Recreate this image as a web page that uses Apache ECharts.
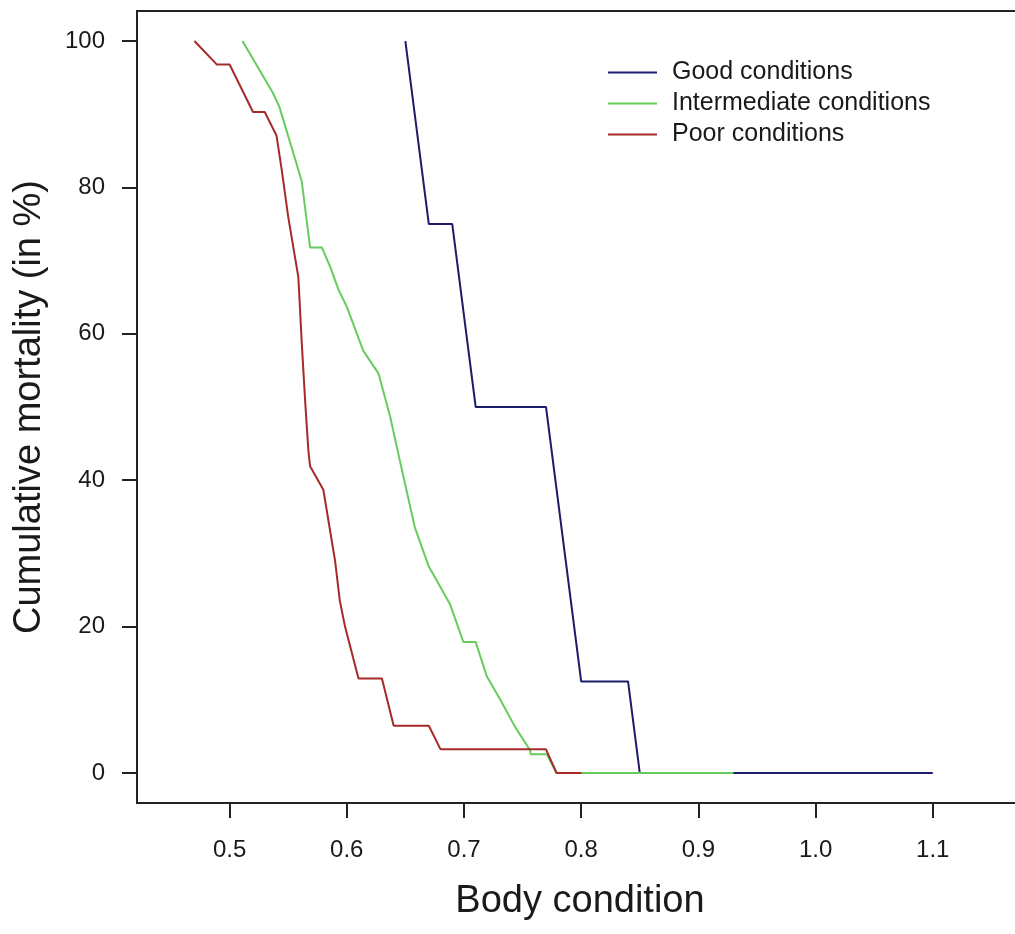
<!doctype html>
<html>
<head>
<meta charset="utf-8">
<title>Cumulative mortality</title>
<script src="https://cdn.jsdelivr.net/npm/echarts@6/dist/echarts.min.js"></script>
</head>
<body style="margin:0;padding:0;background:#fff">
<div id="chart" style="width:1015px;height:934px;"></div>
<script>
// curve points (x = body condition, y = cumulative mortality %)
var goodX = [0.65, 0.67, 0.69, 0.71, 0.77, 0.80, 0.84, 0.85, 1.10];
var goodY = [100, 75, 75, 50, 50, 12.5, 12.5, 0, 0];

var interX = [0.511, 0.537, 0.5425, 0.557, 0.5616, 0.5687, 0.5787, 0.5857, 0.593, 0.600, 0.614, 0.627, 0.637, 0.644,
              0.658, 0.670, 0.688, 0.6995, 0.710, 0.7195, 0.731, 0.7436, 0.7564, 0.757, 0.7707, 0.779, 0.93];
var interY = [100, 92.9, 91.0, 83.3, 80.8, 71.8, 71.8, 69.2, 66.0, 63.7, 57.7, 54.6, 48.7, 43.6,
              33.6, 28.2, 23.1, 17.9, 17.9, 13.2, 10.0, 6.3, 3.1, 2.56, 2.56, 0, 0];

var poorX = [0.47, 0.489, 0.50, 0.52, 0.53, 0.54, 0.5445, 0.55, 0.5587, 0.560, 0.5616, 0.5644, 0.5672, 0.5687,
             0.58, 0.59, 0.594, 0.5985, 0.61, 0.63, 0.64, 0.67, 0.68, 0.77, 0.779, 0.80];
var poorY = [100, 96.8, 96.8, 90.3, 90.3, 87.1, 82.4, 76.0, 67.7, 67.7, 58.7, 51.0, 44.1, 41.9,
             38.7, 29.0, 23.6, 20.0, 12.9, 12.9, 6.45, 6.45, 3.23, 3.23, 0, 0];

var xTicks = [0.5, 0.6, 0.7, 0.8, 0.9, 1.0, 1.1];
var yTicks = [0, 20, 40, 60, 80, 100];

var names = ['Good conditions', 'Intermediate conditions', 'Poor conditions'];
var colors = ['#1c1c6b', '#66cc5c', '#a52a2a'];

function pairs(xs, ys) {
    var out = [];
    for (var i = 0; i < xs.length; i++) out.push([xs[i], ys[i]]);
    return out;
}

var font = '"Liberation Sans", Arial, sans-serif';
var ink = '#1a1a1a';

var chart = echarts.init(document.getElementById('chart'));

chart.setOption({
    backgroundColor: '#fff',
    animation: false,
    textStyle: { fontFamily: font },
    grid: {
        left: 137, top: 11, width: 886, height: 792,
        outerBoundsMode: 'none',
        show: true, borderColor: '#222', borderWidth: 2
    },
    legend: {
        orient: 'vertical',
        left: 603, top: 55,
        icon: 'rect',
        itemWidth: 49, itemHeight: 2,
        itemGap: 6,
        data: names,
        textStyle: { fontSize: 25, color: ink, lineHeight: 25, padding: [0, 0, 0, 10], fontFamily: font }
    },
    xAxis: {
        type: 'value',
        min: 0.421, max: 1.177,
        splitLine: { show: false },
        axisLine: { show: false, onZero: false },
        axisTick: { show: true, length: 15, lineStyle: { color: '#222', width: 2 }, customValues: xTicks },
        axisLabel: {
            customValues: xTicks, margin: 35, fontSize: 24, color: ink, fontFamily: font,
            formatter: function (v) { return v.toFixed(1); }
        },
        name: 'Body condition',
        nameLocation: 'middle',
        nameGap: 80,
        nameTextStyle: { fontSize: 38, color: ink, fontFamily: font }
    },
    yAxis: {
        type: 'value',
        min: -4.1, max: 104.1,
        splitLine: { show: false },
        axisLine: { show: false, onZero: false },
        axisTick: { show: true, length: 15, lineStyle: { color: '#222', width: 2 }, customValues: yTicks },
        axisLabel: { customValues: yTicks, margin: 32, fontSize: 24, color: ink, fontFamily: font },
        name: 'Cumulative mortality (in %)',
        nameLocation: 'middle',
        nameGap: 88,
        nameTextStyle: { fontSize: 38, color: ink, fontFamily: font }
    },
    series: [
        { name: names[0], type: 'line', data: pairs(goodX, goodY), showSymbol: false, symbol: 'none',
          color: colors[0], lineStyle: { width: 2, color: colors[0] } },
        { name: names[1], type: 'line', data: pairs(interX, interY), showSymbol: false, symbol: 'none',
          color: colors[1], lineStyle: { width: 2, color: colors[1] } },
        { name: names[2], type: 'line', data: pairs(poorX, poorY), showSymbol: false, symbol: 'none',
          color: colors[2], lineStyle: { width: 2, color: colors[2] } }
    ]
});
</script>
</body>
</html>
